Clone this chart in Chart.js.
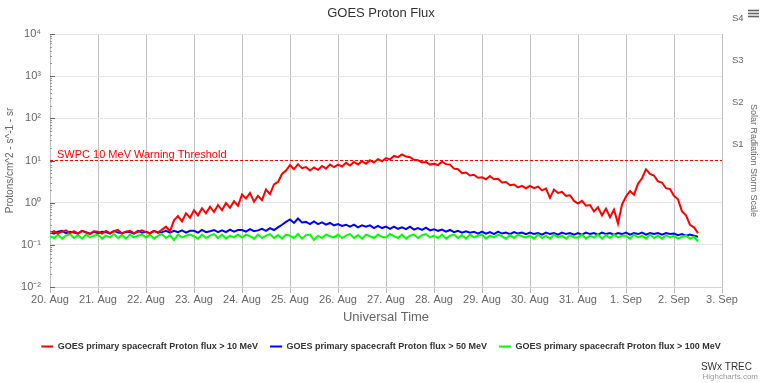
<!DOCTYPE html>
<html>
<head>
<meta charset="utf-8">
<script src="https://cdn.jsdelivr.net/npm/chart.js@4.4.1/dist/chart.umd.min.js"></script>
<style>
  html, body { margin: 0; padding: 0; background: #fff; }
  canvas { display: block; }
</style>
</head>
<body>
<canvas id="js-proton-chart" width="762" height="383"></canvas>
<script>
// x axis tick labels, one per day (x = days after 20 Aug)
const dayLabels = ['20. Aug', '21. Aug', '22. Aug', '23. Aug', '24. Aug', '25. Aug', '26. Aug',
    '27. Aug', '28. Aug', '29. Aug', '30. Aug', '31. Aug', '1. Sep', '2. Sep', '3. Sep'];
const decades = [0.01, 0.1, 1, 10, 100, 1000, 10000];
const decadeLabels = ['10⁻²', '10⁻¹', '10⁰', '10¹', '10²', '10³', '10⁴'];
const stormLevels = [10, 100, 1000, 10000];
const stormLabels = ['S1', 'S2', 'S3', 'S4'];
const thresholdValue = 10;
const stepHours = 2;

// one value every 2 hours from 20 Aug 00:00
const flux10 = [
    0.19, 0.21, 0.185, 0.205, 0.22, 0.19, 0.21, 0.185, 0.215, 0.195, 0.18, 0.21,
    0.205, 0.185, 0.215, 0.19, 0.21, 0.225, 0.185, 0.205, 0.215, 0.19, 0.205, 0.22,
    0.20, 0.185, 0.215, 0.195, 0.23, 0.27, 0.21, 0.38, 0.48, 0.36, 0.56, 0.44,
    0.66, 0.50, 0.74, 0.56, 0.80, 0.60, 0.88, 0.66, 0.98, 0.76, 1.08, 0.84,
    1.55, 1.25, 1.70, 1.05, 1.45, 1.15, 2.05, 1.60, 2.70, 3.10, 4.80, 5.80,
    7.8, 6.2, 8.2, 6.6, 7.0, 5.8, 6.8, 6.0, 7.4, 6.4, 8.0, 7.0,
    8.0, 7.2, 8.8, 7.6, 9.2, 8.0, 9.6, 8.4, 10.2, 9.0, 10.8, 9.6,
    11.4, 10.6, 12.8, 12.0, 14.0, 12.4, 12.0, 10.4, 10.2, 9.0, 9.2, 8.0,
    8.4, 7.8, 9.4, 8.2, 8.0, 6.4, 6.2, 5.0, 5.2, 4.4, 4.6, 3.9,
    4.0, 3.6, 4.3, 3.6, 3.7, 3.0, 3.1, 2.6, 2.7, 2.3, 2.5, 2.2,
    2.5, 2.2, 2.4, 1.95, 2.15, 1.3, 2.05, 1.7, 1.8, 1.45, 1.5, 1.1,
    0.95, 1.10, 0.85, 0.88, 0.62, 0.78, 0.50, 0.72, 0.45, 0.68, 0.32, 0.90,
    1.40, 1.90, 1.55, 2.80, 3.80, 6.20, 4.80, 4.40, 3.20, 3.00, 2.20, 2.10,
    1.45, 1.20, 0.62, 0.50, 0.30, 0.26, 0.19
];
const flux50 = [
    0.20, 0.185, 0.205, 0.215, 0.19, 0.205, 0.195, 0.185, 0.215, 0.20, 0.185, 0.205,
    0.19, 0.205, 0.20, 0.185, 0.215, 0.195, 0.19, 0.205, 0.20, 0.185, 0.215, 0.195,
    0.205, 0.19, 0.215, 0.195, 0.20, 0.215, 0.195, 0.215, 0.20, 0.22, 0.195, 0.215,
    0.215, 0.195, 0.225, 0.20, 0.21, 0.225, 0.20, 0.22, 0.20, 0.23, 0.205, 0.225,
    0.225, 0.205, 0.235, 0.21, 0.22, 0.24, 0.215, 0.25, 0.225, 0.26, 0.30, 0.35,
    0.40, 0.33, 0.42, 0.34, 0.35, 0.31, 0.36, 0.31, 0.34, 0.30, 0.33, 0.29,
    0.31, 0.28, 0.30, 0.27, 0.30, 0.26, 0.29, 0.27, 0.29, 0.25, 0.28, 0.25,
    0.27, 0.24, 0.27, 0.24, 0.26, 0.235, 0.27, 0.23, 0.25, 0.225, 0.255, 0.22,
    0.235, 0.215, 0.23, 0.205, 0.225, 0.20, 0.215, 0.195, 0.21, 0.195, 0.205, 0.185,
    0.205, 0.185, 0.20, 0.18, 0.205, 0.185, 0.195, 0.18, 0.20, 0.185, 0.195, 0.18,
    0.195, 0.18, 0.19, 0.175, 0.195, 0.18, 0.19, 0.175, 0.195, 0.18, 0.19, 0.175,
    0.19, 0.175, 0.195, 0.18, 0.19, 0.175, 0.195, 0.18, 0.19, 0.175, 0.19, 0.18,
    0.195, 0.175, 0.19, 0.18, 0.195, 0.175, 0.19, 0.18, 0.19, 0.175, 0.19, 0.18,
    0.185, 0.17, 0.18, 0.165, 0.175, 0.165, 0.155
];
const flux100 = [
    0.16, 0.145, 0.175, 0.14, 0.165, 0.18, 0.145, 0.17, 0.14, 0.175, 0.15, 0.165,
    0.175, 0.14, 0.165, 0.15, 0.18, 0.145, 0.17, 0.14, 0.175, 0.15, 0.165, 0.175,
    0.15, 0.175, 0.14, 0.165, 0.18, 0.145, 0.17, 0.13, 0.175, 0.15, 0.165, 0.175,
    0.16, 0.14, 0.175, 0.145, 0.165, 0.18, 0.145, 0.175, 0.14, 0.165, 0.15, 0.175,
    0.15, 0.175, 0.16, 0.14, 0.175, 0.145, 0.165, 0.18, 0.145, 0.17, 0.14, 0.175,
    0.165, 0.145, 0.18, 0.14, 0.17, 0.175, 0.13, 0.165, 0.145, 0.175, 0.16, 0.15,
    0.175, 0.145, 0.165, 0.18, 0.145, 0.17, 0.14, 0.175, 0.16, 0.145, 0.175, 0.155,
    0.15, 0.18, 0.16, 0.145, 0.175, 0.14, 0.165, 0.175, 0.145, 0.17, 0.18, 0.15,
    0.165, 0.145, 0.175, 0.14, 0.165, 0.175, 0.145, 0.17, 0.14, 0.175, 0.15, 0.165,
    0.175, 0.14, 0.165, 0.15, 0.175, 0.16, 0.14, 0.17, 0.145, 0.175, 0.16, 0.15,
    0.165, 0.14, 0.175, 0.145, 0.165, 0.14, 0.175, 0.15, 0.165, 0.14, 0.17, 0.15,
    0.15, 0.175, 0.14, 0.165, 0.15, 0.175, 0.14, 0.17, 0.145, 0.175, 0.15, 0.165,
    0.165, 0.14, 0.175, 0.15, 0.165, 0.14, 0.175, 0.145, 0.165, 0.14, 0.17, 0.15,
    0.165, 0.14, 0.155, 0.165, 0.14, 0.155, 0.12
];

Chart.defaults.font.family = "'Liberation Sans', Arial, sans-serif";
Chart.defaults.color = '#666666';

function toPoints(values) {
    return values.map((v, i) => ({ x: i * stepHours / 24, y: v }));
}

// extra bits Highcharts draws: threshold label, axis ticks, menu icon, credits
const decorPlugin = {
    id: 'decor',
    afterDatasetsDraw(chart) {
        const ctx = chart.ctx;
        const area = chart.chartArea;
        const y = chart.scales.y;
        ctx.save();
        ctx.font = "11px 'Liberation Sans', Arial, sans-serif";
        ctx.fillStyle = '#ff0000';
        ctx.textAlign = 'left';
        ctx.textBaseline = 'alphabetic';
        ctx.fillText('SWPC 10 MeV Warning Threshold', area.left + 7, y.getPixelForValue(thresholdValue) - 3);
        ctx.restore();
    },
    afterDraw(chart) {
        const ctx = chart.ctx;
        const area = chart.chartArea;
        const y = chart.scales.y;
        ctx.save();
        // major + minor ticks on the left axis
        ctx.lineWidth = 1;
        decades.forEach((d, i) => {
            const py = Math.round(y.getPixelForValue(d)) + 0.5;
            ctx.strokeStyle = '#666666';
            ctx.beginPath();
            ctx.moveTo(area.left, py);
            ctx.lineTo(area.left + 5, py);
            ctx.stroke();
            if (i < decades.length - 1) {
                ctx.strokeStyle = '#999999';
                for (let m = 2; m < 10; m++) {
                    const my = Math.round(y.getPixelForValue(d * m)) + 0.5;
                    ctx.beginPath();
                    ctx.moveTo(area.left, my);
                    ctx.lineTo(area.left + 2, my);
                    ctx.stroke();
                }
            }
        });
        // menu icon
        ctx.strokeStyle = '#666666';
        ctx.lineWidth = 1.6;
        [10.5, 13.5, 16.5].forEach(py => {
            ctx.beginPath();
            ctx.moveTo(748, py);
            ctx.lineTo(759, py);
            ctx.stroke();
        });
        // credits
        ctx.textAlign = 'right';
        ctx.textBaseline = 'middle';
        ctx.fillStyle = '#333333';
        ctx.font = "10px 'Liberation Sans', Arial, sans-serif";
        ctx.fillText('SWx TREC', 752, 367);
        ctx.fillStyle = '#999999';
        ctx.font = "8px 'Liberation Sans', Arial, sans-serif";
        ctx.fillText('Highcharts.com', 758, 377);
        ctx.restore();
    }
};

const ctx = document.getElementById('js-proton-chart').getContext('2d');
const chartProton = new Chart(ctx, {
    type: 'line',
    data: {
        datasets: [{
            label: 'GOES primary spacecraft Proton flux > 10 MeV',
            data: toPoints(flux10),
            borderColor: '#ff0000',
            backgroundColor: '#ff0000',
            borderWidth: 2,
            order: 1
        }, {
            label: 'GOES primary spacecraft Proton flux > 50 MeV',
            data: toPoints(flux50),
            borderColor: '#0000ff',
            backgroundColor: '#0000ff',
            borderWidth: 2,
            order: 3
        }, {
            label: 'GOES primary spacecraft Proton flux > 100 MeV',
            data: toPoints(flux100),
            borderColor: '#00ff00',
            backgroundColor: '#00ff00',
            borderWidth: 2,
            order: 2
        }, {
            label: 'threshold',
            data: [{ x: 0, y: thresholdValue }, { x: dayLabels.length - 1, y: thresholdValue }],
            borderColor: '#ff0000',
            borderWidth: 1,
            borderDash: [3, 2],
            order: 4
        }]
    },
    options: {
        responsive: false,
        animation: false,
        devicePixelRatio: 1,
        elements: {
            point: { radius: 0 },
            line: { tension: 0 }
        },
        layout: {
            padding: { left: 0, right: 0, top: 0, bottom: 22 }
        },
        plugins: {
            title: {
                display: true,
                text: 'GOES Proton Flux',
                color: '#333333',
                font: { size: 13, weight: 'normal' },
                padding: { top: 6, bottom: 12.4 }
            },
            legend: {
                position: 'bottom',
                labels: {
                    usePointStyle: true,
                    pointStyle: 'line',
                    pointStyleWidth: 12,
                    padding: 12,
                    color: '#333333',
                    font: { size: 9, weight: 'bold' },
                    filter: item => item.text !== 'threshold',
                    sort: (a, b) => a.datasetIndex - b.datasetIndex
                }
            },
            tooltip: { enabled: false }
        },
        scales: {
            x: {
                type: 'linear',
                min: 0,
                max: dayLabels.length - 1,
                afterBuildTicks: scale => {
                    scale.ticks = dayLabels.map((l, i) => ({ value: i }));
                },
                afterFit: scale => { scale.height = 43; },
                ticks: {
                    autoSkip: false,
                    maxRotation: 0,
                    padding: 0,
                    color: '#666666',
                    font: { size: 11 },
                    callback: value => dayLabels[value]
                },
                grid: {
                    color: '#c0c0c0',
                    tickLength: 6,
                    drawTicks: true
                },
                border: { color: '#ccd6eb' },
                title: {
                    display: true,
                    text: 'Universal Time',
                    color: '#666666',
                    font: { size: 13 },
                    padding: { top: 0, bottom: 5 }
                }
            },
            y: {
                type: 'logarithmic',
                position: 'left',
                min: decades[0],
                max: decades[decades.length - 1],
                afterBuildTicks: scale => {
                    scale.ticks = decades.map(v => ({ value: v }));
                },
                afterFit: scale => { scale.width = 50; },
                ticks: {
                    padding: 9,
                    color: '#666666',
                    font: { size: 11 },
                    callback: value => decadeLabels[decades.indexOf(value)]
                },
                grid: { color: '#e6e6e6', drawTicks: false },
                border: { color: '#c0c0c0' },
                title: {
                    display: true,
                    text: 'Protons/cm^2 - s^-1 - sr',
                    color: '#666666',
                    font: { size: 10 },
                    padding: { top: 4, bottom: 0 }
                }
            },
            storm: {
                type: 'logarithmic',
                position: 'right',
                min: decades[0],
                max: decades[decades.length - 1],
                afterBuildTicks: scale => {
                    scale.ticks = stormLevels.map(v => ({ value: v }));
                },
                afterFit: scale => { scale.width = 40; },
                ticks: {
                    padding: 10,
                    labelOffset: -16,
                    color: '#666666',
                    font: { size: 9.5 },
                    callback: value => stormLabels[stormLevels.indexOf(value)]
                },
                grid: { display: false, drawTicks: false },
                border: { display: false },
                title: {
                    display: true,
                    text: 'Solar Radiation Storm Scale',
                    color: '#666666',
                    font: { size: 9 },
                    padding: { top: 3, bottom: 0 }
                }
            }
        }
    },
    plugins: [decorPlugin]
});
</script>
</body>
</html>
